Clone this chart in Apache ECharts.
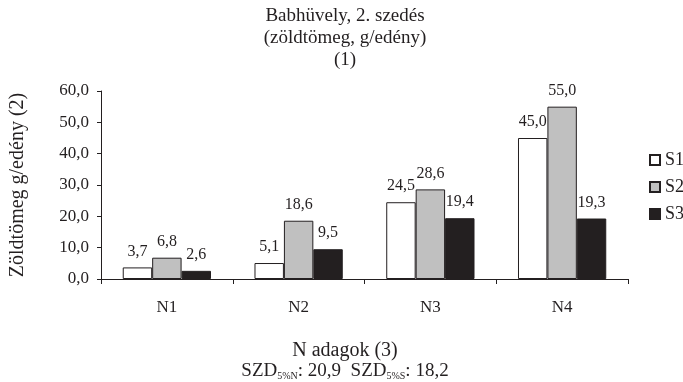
<!DOCTYPE html>
<html>
<head>
<meta charset="utf-8">
<script src="https://cdn.jsdelivr.net/npm/echarts@6/dist/echarts.min.js"></script>
<style>
  html, body { margin: 0; padding: 0; background: #fff; }
  #chart { width: 683px; height: 382px; }
</style>
</head>
<body>
<div id="chart"></div>
<script>
const categories = ['N1', 'N2', 'N3', 'N4'];
const s1 = [3.7, 5.1, 24.5, 45.0];
const s2 = [6.8, 18.6, 28.6, 55.0];
const s3 = [2.6, 9.5, 19.4, 19.3];
const seriesNames = ['S1', 'S2', 'S3'];

const font = '"Liberation Serif", "DejaVu Serif", serif';
const ink = '#231f20';
const comma = v => v.toFixed(1).replace('.', ',');

const barBase = {
    type: 'bar',
    barGap: '0%',
    barCategoryGap: '33%',
    label: {
        show: true,
        position: 'top',
        distance: 8,
        fontFamily: font,
        fontSize: 16,
        color: ink,
        formatter: p => comma(p.value)
    }
};

const option = {
    animation: false,
    backgroundColor: '#fff',
    textStyle: { fontFamily: font },
    title: [
        {
            text: 'Babhüvely, 2. szedés\n(zöldtömeg, g/edény)\n(1)',
            left: 340,
            textAlign: 'center',
            top: 0,
            textStyle: {
                fontFamily: font,
                fontSize: 19,
                fontWeight: 'normal',
                color: ink,
                lineHeight: 22
            }
        },
        {
            // x axis caption, centred on the whole picture like the original
            text: 'N adagok (3)\n{n|SZD}{s|5%N}{n|: 20,9  SZD}{s|5%S}{n|: 18,2}',
            left: 340,
            textAlign: 'center',
            top: 336,
            textStyle: {
                fontFamily: font,
                fontSize: 20,
                fontWeight: 'normal',
                color: ink,
                lineHeight: 20,
                rich: {
                    n: { fontFamily: font, fontSize: 19, color: ink, lineHeight: 20 },
                    s: { fontFamily: font, fontSize: 10, color: ink, verticalAlign: 'bottom', lineHeight: 20, padding: [7, 0, 0, 0] }
                }
            }
        }
    ],
    legend: {
        orient: 'vertical',
        left: 644,
        top: 146,
        itemWidth: 10,
        itemHeight: 10,
        itemGap: 9,
        icon: 'rect',
        data: seriesNames,
        textStyle: { fontFamily: font, fontSize: 18, color: ink }
    },
    grid: { left: 99, right: 55, top: 91, bottom: 103 },
    xAxis: {
        type: 'category',
        data: categories,
        axisLine: { lineStyle: { color: ink, width: 1 } },
        axisTick: { show: true, length: 5, lineStyle: { color: ink } },
        axisLabel: { fontFamily: font, fontSize: 17, color: ink, margin: 20 }
    },
    yAxis: {
        type: 'value',
        min: 0,
        max: 60,
        interval: 10,
        axisLine: { show: true, lineStyle: { color: ink, width: 1 } },
        axisTick: { show: true, length: 4, lineStyle: { color: ink } },
        splitLine: { show: false },
        axisLabel: { fontFamily: font, fontSize: 17, color: ink, margin: 12, formatter: v => comma(v) },
        name: 'Zöldtömeg g/edény (2)',
        nameLocation: 'middle',
        nameGap: 73,
        nameRotate: 90,
        nameTextStyle: { fontFamily: font, fontSize: 20, color: ink }
    },
    series: [
        Object.assign({}, barBase, {
            name: seriesNames[0], data: s1,
            itemStyle: { color: '#ffffff', borderColor: ink, borderWidth: 1 }
        }),
        Object.assign({}, barBase, {
            name: seriesNames[1], data: s2,
            itemStyle: { color: '#c0c0c0', borderColor: ink, borderWidth: 1 }
        }),
        Object.assign({}, barBase, {
            name: seriesNames[2], data: s3,
            itemStyle: { color: ink, borderColor: ink, borderWidth: 1 }
        })
    ]
};

echarts.init(document.getElementById('chart')).setOption(option);
</script>
</body>
</html>
